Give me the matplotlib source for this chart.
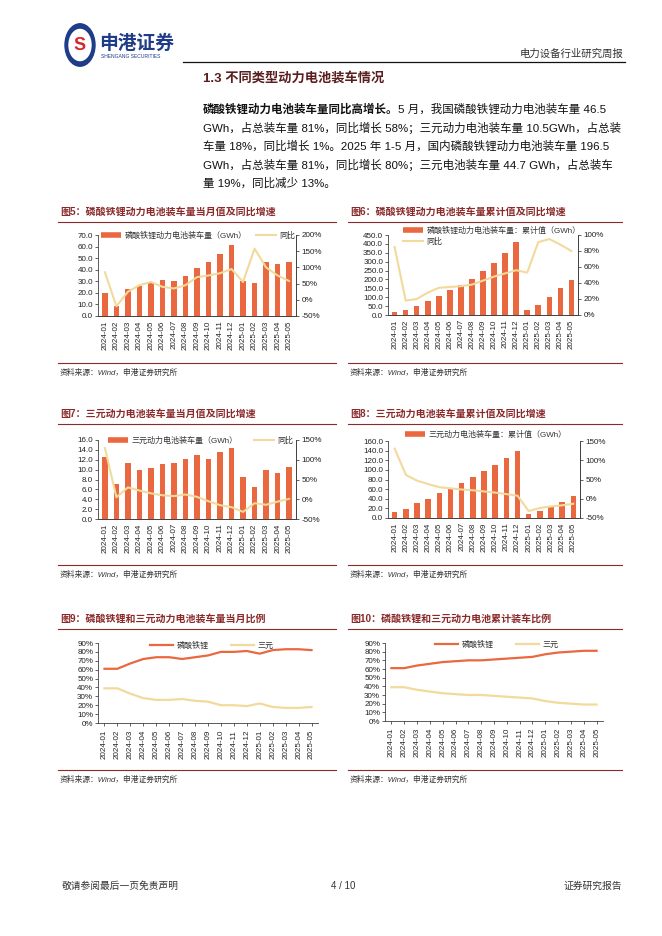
import matplotlib
matplotlib.use('Agg')

import matplotlib.pyplot as plt
from matplotlib.lines import Line2D
from matplotlib.patches import Circle
import numpy as np

plt.rcParams['font.family'] = ['Liberation Sans', 'Noto Sans CJK SC']
plt.rcParams['axes.unicode_minus'] = False

W, H = 662, 936

# 数据
months = ['2024-01', '2024-02', '2024-03', '2024-04', '2024-05', '2024-06',
          '2024-07', '2024-08', '2024-09', '2024-10', '2024-11', '2024-12',
          '2025-01', '2025-02', '2025-03', '2025-04', '2025-05']

lfp_month = [19.6, 8.3, 23.5, 25.5, 29.5, 31.5, 30.5, 35.0, 41.5, 47.0, 53.5, 61.0,
             30.0, 28.5, 46.5, 45.0, 46.5]
lfp_month_yoy = [85, -20, 25, 45, 55, 40, 35, 45, 70, 75, 82, 95,
                 55, 158, 100, 75, 58]

lfp_cum = [19.6, 28.0, 52.0, 77.0, 106.0, 138.0, 168.0, 203.0, 245.0, 292.0, 346.0, 408.0,
           30.0, 58.0, 104.0, 150.0, 196.5]
lfp_cum_yoy = [85, 18, 20, 28, 34, 35, 36, 38, 43, 48, 52, 56,
               53, 91, 95, 88, 80]

ncm_month = [12.5, 7.0, 11.3, 9.9, 10.4, 11.1, 11.4, 12.1, 13.0, 12.2, 13.6, 14.3,
             8.5, 6.4, 10.0, 9.3, 10.5]
ncm_month_yoy = [130, 5, 30, 22, 15, 10, 8, 12, 6, -5, -15, -20,
                 -32, -10, -14, -6, 1]

ncm_cum = [12.5, 19.5, 31.0, 40.5, 51.0, 62.0, 73.5, 85.5, 98.5, 111.0, 124.5, 139.0,
           8.5, 15.0, 25.0, 34.0, 44.7]
ncm_cum_yoy = [130, 62, 47, 38, 30, 27, 24, 22, 19, 16, 12, 8,
               -32, -24, -20, -17, -13]

lfp_share_month = [61, 61, 67, 72, 74, 74, 72, 74, 76, 80, 80, 81, 78, 82, 83, 83, 82]
ncm_share_month = [39, 39, 33, 28, 26, 26, 27, 25, 24, 20, 20, 19, 22, 18, 17, 17, 18]
lfp_share_cum = [61, 61, 64, 66, 68, 69, 70, 70, 71, 72, 73, 74, 77, 79, 80, 81, 81]
ncm_share_cum = [39, 39, 36, 34, 32, 31, 30, 30, 29, 28, 27, 26, 23, 21, 20, 19, 19]

BAR = '#E9683F'
YOY = '#F2DA9C'
DARKRED = '#8B2A2A'
AXC = '#404040'
FS = 5.8

fig = plt.figure(figsize=(W / 100, H / 100), dpi=100)


def fx(x):
    return x / W


def fy(y):
    return 1 - y / H


def add_ax(x0, y0, x1, y1):
    return fig.add_axes([fx(x0), fy(y1), fx(x1 - x0), (y1 - y0) / H])


def style_ax(ax):
    ax.spines['top'].set_visible(False)
    for s in ['left', 'right', 'bottom']:
        ax.spines[s].set_color(AXC)
        ax.spines[s].set_linewidth(0.6)
    ax.tick_params(axis='both', labelsize=FS, colors='#222222', length=2, width=0.5, pad=1.5)


def chart_frame(title, x0, x1, ty, src_y):
    fig.text(fx(x0 + 2), fy(ty), title, fontsize=7.2, fontweight='bold', color=DARKRED,
             va='center', ha='left')
    fig.add_artist(Line2D([fx(x0), fx(x1)], [fy(ty + 10), fy(ty + 10)], color=DARKRED, lw=0.8))
    fig.add_artist(Line2D([fx(x0), fx(x1)], [fy(src_y), fy(src_y)], color=DARKRED, lw=0.8))
    fig.text(fx(x0 + 2), fy(src_y + 10), '资料来源：Wind，申港证券研究所', fontsize=5.6,
             style='italic', color='#333333', va='center', ha='left')


def bar_line(rect, bars, yoy, ylim, ystep, rlim, rstep, handles, legpos, ncol, colsp):
    ax = add_ax(*rect)
    x = np.arange(len(months))
    ax.bar(x, bars, width=0.5, color=BAR, zorder=2)
    ax.set_xlim(-0.6, len(months) - 0.4)
    ax.set_ylim(*ylim)
    lt = np.arange(ylim[0], ylim[1] + 0.001, ystep)
    ax.set_yticks(lt)
    ax.set_yticklabels(['%.1f' % v for v in lt])
    ax.set_xticks(x)
    ax.set_xticklabels(months, rotation=90)
    style_ax(ax)
    ax.tick_params(axis='x', length=0, pad=3)
    ax2 = ax.twinx()
    ax2.plot(x, yoy, color=YOY, lw=1.5, zorder=3)
    ax2.set_ylim(*rlim)
    rt = np.arange(rlim[0], rlim[1] + 0.001, rstep)
    ax2.set_yticks(rt)
    ax2.set_yticklabels(['%d%%' % v for v in rt])
    style_ax(ax2)
    ax2.spines['left'].set_visible(False)
    ax2.tick_params(axis='y', pad=2)
    leg = ax2.legend(handles=handles, loc='upper left', bbox_to_anchor=(fx(legpos[0]), fy(legpos[1])),
                     bbox_transform=fig.transFigure, ncol=ncol, frameon=False, fontsize=FS,
                     handlelength=2.5, handletextpad=0.4, columnspacing=colsp,
                     borderpad=0, borderaxespad=0, labelspacing=0.3)
    for t in leg.get_texts():
        t.set_color('#333333')
    return ax, ax2


def share_chart(rect, a, b, legpos):
    ax = add_ax(*rect)
    x = np.arange(len(months))
    ax.plot(x, a, color=BAR, lw=1.6)
    ax.plot(x, b, color=YOY, lw=1.6)
    ax.set_xlim(-0.5, len(months) - 0.5)
    ax.set_ylim(0, 90)
    ax.set_yticks(np.arange(0, 91, 10))
    ax.set_yticklabels(['%d%%' % v for v in np.arange(0, 91, 10)])
    ax.set_xticks(x)
    ax.set_xticklabels(months, rotation=90)
    style_ax(ax)
    ax.spines['right'].set_visible(False)
    ax.tick_params(axis='x', pad=3, length=2)
    hs = [Line2D([], [], color=BAR, lw=1.6, label='磷酸铁锂'),
          Line2D([], [], color=YOY, lw=1.6, label='三元')]
    leg = ax.legend(handles=hs, loc='upper left', bbox_to_anchor=(fx(legpos[0]), fy(legpos[1])),
                    bbox_transform=fig.transFigure, ncol=2, frameon=False, fontsize=FS,
                    handlelength=2.8, handletextpad=0.5, columnspacing=2.8,
                    borderpad=0, borderaxespad=0)
    for t in leg.get_texts():
        t.set_color('#333333')


# 页眉
fig.add_artist(Circle((fx(80), fy(45)), 15 / W, transform=fig.transFigure, color='#1F3C88'))
fig.add_artist(Circle((fx(80), fy(45)), 11 / W, transform=fig.transFigure, color='white'))
fig.text(fx(80), fy(45), 'S', fontsize=13, fontweight='bold', color='#D7262B', ha='center',
         va='center')
fig.text(fx(99), fy(44), '申港证券', fontsize=13.5, fontweight='bold', color='#1F3C88',
         va='center', ha='left')
fig.text(fx(101), fy(57), 'SHENGANG SECURITIES', fontsize=3.6, color='#1F3C88', va='center',
         ha='left')
fig.add_artist(Line2D([fx(183), fx(625)], [fy(62), fy(62)], color='#111111', lw=0.9))
fig.text(fx(623), fy(54), '电力设备行业研究周报', fontsize=7.5, color='#333333', ha='right',
         va='center')

fig.text(fx(203), fy(78), '1.3 不同类型动力电池装车情况', fontsize=9.5, fontweight='bold',
         color='#5A1E1E', va='center', ha='left')

# 正文
BODY_FS = 8.25
body_lines = [
    '5 月，我国磷酸铁锂动力电池装车量 46.5',
    'GWh，占总装车量 81%，同比增长 58%；三元动力电池装车量 10.5GWh，占总装',
    '车量 18%，同比增长 1%。2025 年 1-5 月，国内磷酸铁锂动力电池装车量 196.5',
    'GWh，占总装车量 81%，同比增长 80%；三元电池装车量 44.7 GWh，占总装车',
    '量 19%，同比减少 13%。',
]
body_y = [109, 128, 146, 165, 183]
lead = fig.text(fx(203), fy(body_y[0]), '磷酸铁锂动力电池装车量同比高增长。', fontsize=BODY_FS,
                fontweight='bold', color='#111111', va='center', ha='left')
fig.canvas.draw()
bb = lead.get_window_extent()
fig.text(bb.x1 / W, fy(body_y[0]), body_lines[0], fontsize=BODY_FS, color='#111111', va='center',
         ha='left')
for s, y in zip(body_lines[1:], body_y[1:]):
    fig.text(fx(203), fy(y), s, fontsize=BODY_FS, color='#111111', va='center', ha='left')

# 图5
chart_frame('图5：磷酸铁锂动力电池装车量当月值及同比增速', 58, 336, 212, 363)
bar_line((98, 235, 296, 316), lfp_month, lfp_month_yoy, (0, 70), 10, (-50, 200), 50,
         [Line2D([], [], color=BAR, lw=4, solid_capstyle='butt', label='磷酸铁锂动力电池装车量（GWh）'),
          Line2D([], [], color=YOY, lw=1.5, label='同比')],
         (101, 232), 2, 1.2)

# 图6
chart_frame('图6：磷酸铁锂动力电池装车量累计值及同比增速', 348, 622, 212, 363)
bar_line((388, 235, 578, 315), lfp_cum, lfp_cum_yoy, (0, 450), 50, (0, 100), 20,
         [Line2D([], [], color=BAR, lw=4, solid_capstyle='butt', label='磷酸铁锂动力电池装车量：累计值（GWh）'),
          Line2D([], [], color=YOY, lw=1.5, label='同比')],
         (403, 227), 1, 1)

# 图7
chart_frame('图7：三元动力电池装车量当月值及同比增速', 58, 336, 414, 565)
bar_line((98, 440, 296, 519), ncm_month, ncm_month_yoy, (0, 16), 2, (-50, 150), 50,
         [Line2D([], [], color=BAR, lw=4, solid_capstyle='butt', label='三元动力电池装车量（GWh）'),
          Line2D([], [], color=YOY, lw=1.5, label='同比')],
         (108, 437), 2, 2.0)

# 图8
chart_frame('图8：三元动力电池装车量累计值及同比增速', 348, 622, 414, 565)
bar_line((388, 441, 580, 518), ncm_cum, ncm_cum_yoy, (0, 160), 20, (-50, 150), 50,
         [Line2D([], [], color=BAR, lw=4, solid_capstyle='butt', label='三元动力电池装车量：累计值（GWh）')],
         (405, 431), 1, 1)

# 图9
chart_frame('图9：磷酸铁锂和三元动力电池装车量当月比例', 58, 336, 619, 770)
share_chart((98, 643, 318, 723), lfp_share_month, ncm_share_month, (150, 642))

# 图10
chart_frame('图10：磷酸铁锂和三元动力电池累计装车比例', 348, 622, 619, 770)
share_chart((385, 643, 603, 721), lfp_share_cum, ncm_share_cum, (435, 641))

# 页脚
fig.text(fx(62), fy(886), '敬请参阅最后一页免责声明', fontsize=7, color='#333333', va='center',
         ha='left')
fig.text(fx(343), fy(886), '4 / 10', fontsize=7, color='#333333', va='center', ha='center')
fig.text(fx(622), fy(886), '证券研究报告', fontsize=7, color='#333333', va='center', ha='right')

fig.savefig('out.png', dpi=100)
